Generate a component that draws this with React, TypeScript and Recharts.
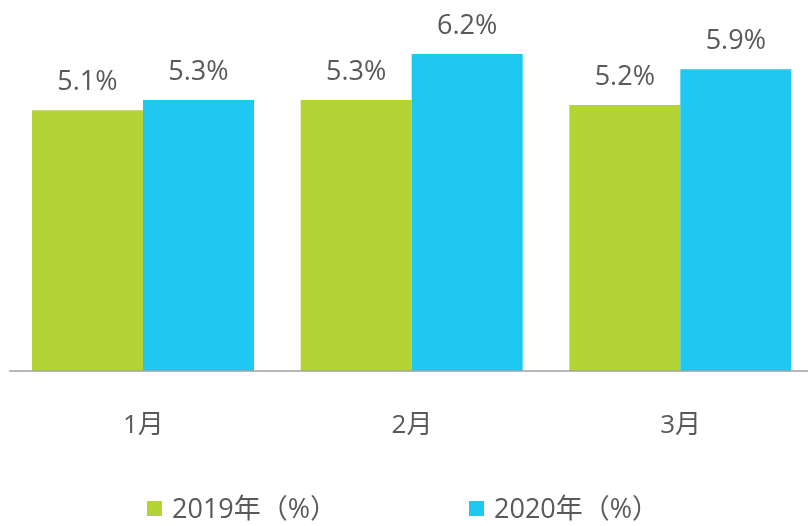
// Monthly rate comparison, 2019 vs 2020, grouped bars with value labels.
import { BarChart, Bar, XAxis, YAxis, Legend, LabelList } from 'recharts';

const GREEN = '#b4d334';
const BLUE = '#1fc8f1';
const TEXT = '#595959';
const AXIS = '#a0a0a0';
const FONT = '"Open Sans", "Noto Sans CJK SC", sans-serif';

const months = ['1月', '2月', '3月'];
const values2019 = [5.1, 5.3, 5.2];
const values2020 = [5.3, 6.2, 5.9];
const seriesNames = ['2019年（%）', '2020年（%）'];

const data = months.map((m, i) => ({ month: m, y2019: values2019[i], y2020: values2020[i] }));

const pct = (v: number) => `${v.toFixed(1)}%`;

export default function App() {
  return (
    <div style={{ position: 'fixed', top: 0, left: 0, width: 808, height: 526, overflow: 'hidden' }}>
      {/* plot runs a few px past the right edge, as in the source image */}
      <BarChart
        width={815}
        height={526}
        data={data}
        margin={{ top: 13, right: 0, bottom: 0, left: 9 }}
        barCategoryGap={23}
        barGap={0}
      >
        <XAxis
          dataKey="month"
          stroke={AXIS}
          strokeWidth={1.5}
          tickLine={false}
          tickSize={0}
          tickMargin={44}
          height={125}
          tick={{ fill: TEXT, fontSize: 26, fontFamily: FONT }}
        />
        <YAxis hide domain={[0, 7]} />
        <Legend
          verticalAlign="bottom"
          align="left"
          iconType="square"
          iconSize={15}
          wrapperStyle={{ left: 147, bottom: 2, width: 660, height: 30, lineHeight: '26px' }}
          formatter={(value: string) => (
            <span
              style={{
                display: 'inline-block',
                width: 287,
                paddingLeft: 6,
                color: TEXT,
                fontSize: 27,
                lineHeight: '26px',
                fontFamily: FONT,
                verticalAlign: 'middle',
              }}
            >
              {value}
            </span>
          )}
        />
        <Bar dataKey="y2019" name={seriesNames[0]} fill={GREEN} isAnimationActive={false}>
          <LabelList
            dataKey="y2019"
            position="top"
            offset={20}
            formatter={pct}
            fill={TEXT}
            fontSize={27}
            fontFamily={FONT}
          />
        </Bar>
        <Bar dataKey="y2020" name={seriesNames[1]} fill={BLUE} isAnimationActive={false}>
          <LabelList
            dataKey="y2020"
            position="top"
            offset={20}
            formatter={pct}
            fill={TEXT}
            fontSize={27}
            fontFamily={FONT}
          />
        </Bar>
      </BarChart>
    </div>
  );
}
